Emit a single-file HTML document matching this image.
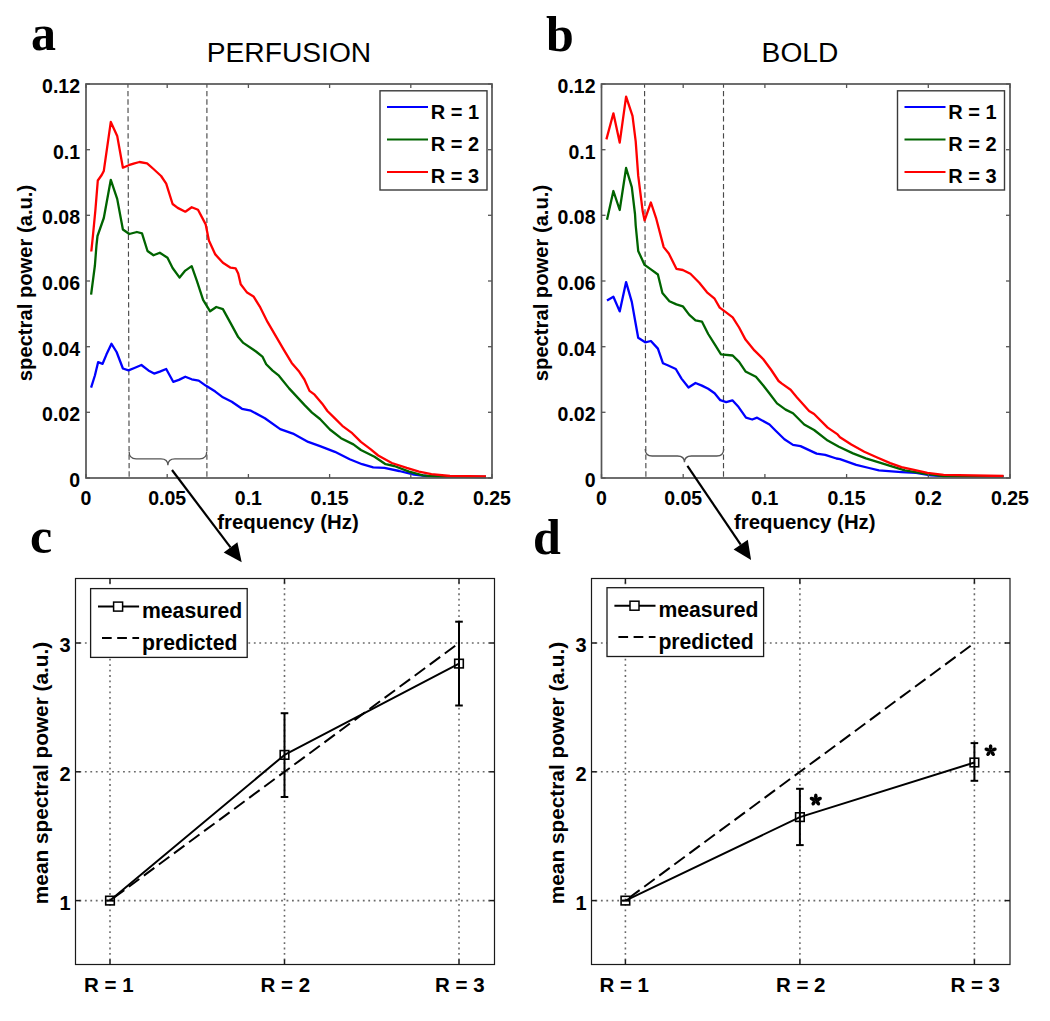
<!DOCTYPE html>
<html><head><meta charset="utf-8"><style>
html,body{margin:0;padding:0;background:#fff;}
body{width:1050px;height:1021px;overflow:hidden;font-family:"Liberation Sans",sans-serif;}
svg{display:block;}
</style></head><body>
<svg width="1050" height="1021" viewBox="0 0 1050 1021">
<rect width="1050" height="1021" fill="#fff"/>
<line x1="127.95" y1="84" x2="129.15" y2="478" stroke="#4a4a4a" stroke-width="1.15" stroke-dasharray="5.3,3.154" stroke-dashoffset="1.55"/>
<line x1="206.9" y1="84" x2="206.9" y2="478" stroke="#4a4a4a" stroke-width="1.15" stroke-dasharray="5.3,3.154" stroke-dashoffset="1.55"/>
<polyline points="91.1,387.6 94.9,375.5 98.1,362.2 102.6,363.8 106.4,354.6 111.5,343.8 116.6,352.0 122.9,368.5 128.5,370.4 134.4,368.0 141.4,365.0 148.4,370.4 154.1,373.6 159.8,371.6 166.2,369.0 173.2,381.8 178.9,379.9 185.3,376.7 191.7,379.3 198.7,380.6 205.7,385.6 215.3,391.6 222.9,397.3 231.8,401.8 242.0,408.8 250.9,410.7 264.9,418.3 280.2,429.1 292.9,433.6 308.2,441.9 320.0,446.2 334.9,451.8 349.7,459.2 362.1,464.2 373.2,467.3 384.4,467.9 399.2,471.0 414.1,474.7 426.5,476.0 450.0,476.6 486.0,477.0" fill="none" stroke="#0000ff" stroke-width="2.3" stroke-linejoin="round" stroke-linecap="butt" />
<polyline points="91.1,294.7 94.9,265.5 96.5,245.0 97.5,236.0 103.8,218.0 110.8,179.8 117.2,198.9 122.9,229.5 129.3,234.0 136.9,232.0 142.0,233.3 147.5,251.0 153.5,255.3 159.8,252.7 167.5,257.8 172.6,268.0 179.6,277.6 185.3,270.6 191.7,266.1 196.8,280.7 203.1,299.8 210.1,311.3 216.3,307.0 222.9,309.1 230.6,323.1 238.2,337.1 243.3,342.9 256.0,351.5 262.4,356.6 266.2,364.2 272.6,370.6 278.9,375.7 289.1,388.4 304.4,404.9 312.0,412.6 320.0,419.0 329.9,429.5 341.0,438.2 353.4,444.4 360.9,450.0 374.5,456.8 385.6,464.2 394.3,466.0 409.1,471.6 422.8,475.3 437.6,476.6 486.0,477.0" fill="none" stroke="#006400" stroke-width="2.3" stroke-linejoin="round" stroke-linecap="butt" />
<polyline points="91.3,251.5 93.0,235.0 95.4,210.0 97.8,180.5 101.7,175.0 103.8,170.9 110.8,121.9 117.2,135.9 122.9,167.7 128.7,165.2 134.4,163.3 139.5,162.0 147.1,163.3 153.5,169.0 161.1,176.0 166.2,183.7 172.6,204.0 177.7,207.9 185.3,211.7 191.7,207.2 198.0,209.8 205.7,224.4 208.9,240.4 215.3,254.4 222.9,262.7 230.6,267.7 235.7,268.4 238.2,273.5 240.7,284.3 247.1,292.6 253.5,296.4 259.8,306.6 267.5,321.9 276.4,337.1 284.0,350.2 291.7,362.9 299.3,371.8 304.4,379.5 309.5,390.9 314.6,394.7 322.2,403.7 327.4,411.0 334.9,418.4 342.3,425.8 352.2,433.2 360.9,441.9 370.8,449.3 378.2,455.5 391.8,463.0 406.7,467.9 419.0,471.6 431.4,474.1 450.0,476.0 486.0,476.5" fill="none" stroke="#ff0000" stroke-width="2.3" stroke-linejoin="round" stroke-linecap="butt" />
<rect x="86" y="84" width="406" height="394" fill="none" stroke="#555" stroke-width="1.7"/>
<line x1="86.0" y1="478" x2="86.0" y2="474" stroke="#555" stroke-width="1.3"/>
<line x1="86.0" y1="84" x2="86.0" y2="88" stroke="#555" stroke-width="1.3"/>
<text x="86.0" y="505.0" font-family="Liberation Sans" font-size="19.5" font-weight="bold" text-anchor="middle" fill="#000" >0</text>
<line x1="167.2" y1="478" x2="167.2" y2="474" stroke="#555" stroke-width="1.3"/>
<line x1="167.2" y1="84" x2="167.2" y2="88" stroke="#555" stroke-width="1.3"/>
<text x="167.2" y="505.0" font-family="Liberation Sans" font-size="19.5" font-weight="bold" text-anchor="middle" fill="#000" >0.05</text>
<line x1="248.4" y1="478" x2="248.4" y2="474" stroke="#555" stroke-width="1.3"/>
<line x1="248.4" y1="84" x2="248.4" y2="88" stroke="#555" stroke-width="1.3"/>
<text x="248.4" y="505.0" font-family="Liberation Sans" font-size="19.5" font-weight="bold" text-anchor="middle" fill="#000" >0.1</text>
<line x1="329.6" y1="478" x2="329.6" y2="474" stroke="#555" stroke-width="1.3"/>
<line x1="329.6" y1="84" x2="329.6" y2="88" stroke="#555" stroke-width="1.3"/>
<text x="329.6" y="505.0" font-family="Liberation Sans" font-size="19.5" font-weight="bold" text-anchor="middle" fill="#000" >0.15</text>
<line x1="410.8" y1="478" x2="410.8" y2="474" stroke="#555" stroke-width="1.3"/>
<line x1="410.8" y1="84" x2="410.8" y2="88" stroke="#555" stroke-width="1.3"/>
<text x="410.8" y="505.0" font-family="Liberation Sans" font-size="19.5" font-weight="bold" text-anchor="middle" fill="#000" >0.2</text>
<line x1="492.0" y1="478" x2="492.0" y2="474" stroke="#555" stroke-width="1.3"/>
<line x1="492.0" y1="84" x2="492.0" y2="88" stroke="#555" stroke-width="1.3"/>
<text x="492.0" y="505.0" font-family="Liberation Sans" font-size="19.5" font-weight="bold" text-anchor="middle" fill="#000" >0.25</text>
<line x1="86" y1="478.0" x2="90" y2="478.0" stroke="#555" stroke-width="1.3"/>
<line x1="492" y1="478.0" x2="488" y2="478.0" stroke="#555" stroke-width="1.3"/>
<text x="80.0" y="487.0" font-family="Liberation Sans" font-size="19.5" font-weight="bold" text-anchor="end" fill="#000" >0</text>
<line x1="86" y1="412.3" x2="90" y2="412.3" stroke="#555" stroke-width="1.3"/>
<line x1="492" y1="412.3" x2="488" y2="412.3" stroke="#555" stroke-width="1.3"/>
<text x="80.0" y="421.3" font-family="Liberation Sans" font-size="19.5" font-weight="bold" text-anchor="end" fill="#000" >0.02</text>
<line x1="86" y1="346.7" x2="90" y2="346.7" stroke="#555" stroke-width="1.3"/>
<line x1="492" y1="346.7" x2="488" y2="346.7" stroke="#555" stroke-width="1.3"/>
<text x="80.0" y="355.7" font-family="Liberation Sans" font-size="19.5" font-weight="bold" text-anchor="end" fill="#000" >0.04</text>
<line x1="86" y1="281.0" x2="90" y2="281.0" stroke="#555" stroke-width="1.3"/>
<line x1="492" y1="281.0" x2="488" y2="281.0" stroke="#555" stroke-width="1.3"/>
<text x="80.0" y="290.0" font-family="Liberation Sans" font-size="19.5" font-weight="bold" text-anchor="end" fill="#000" >0.06</text>
<line x1="86" y1="215.3" x2="90" y2="215.3" stroke="#555" stroke-width="1.3"/>
<line x1="492" y1="215.3" x2="488" y2="215.3" stroke="#555" stroke-width="1.3"/>
<text x="80.0" y="224.3" font-family="Liberation Sans" font-size="19.5" font-weight="bold" text-anchor="end" fill="#000" >0.08</text>
<line x1="86" y1="149.7" x2="90" y2="149.7" stroke="#555" stroke-width="1.3"/>
<line x1="492" y1="149.7" x2="488" y2="149.7" stroke="#555" stroke-width="1.3"/>
<text x="80.0" y="158.7" font-family="Liberation Sans" font-size="19.5" font-weight="bold" text-anchor="end" fill="#000" >0.1</text>
<line x1="86" y1="84.0" x2="90" y2="84.0" stroke="#555" stroke-width="1.3"/>
<line x1="492" y1="84.0" x2="488" y2="84.0" stroke="#555" stroke-width="1.3"/>
<text x="80.0" y="93.0" font-family="Liberation Sans" font-size="19.5" font-weight="bold" text-anchor="end" fill="#000" >0.12</text>
<text x="288.0" y="529.0" font-family="Liberation Sans" font-size="20.4" font-weight="bold" text-anchor="middle" fill="#000" >frequency (Hz)</text>
<text x="32.0" y="283.0" font-family="Liberation Sans" font-size="20.2" font-weight="bold" text-anchor="middle" fill="#000" transform="rotate(-90 32 283.0)">spectral power (a.u.)</text>
<text x="289.0" y="62.0" font-family="Liberation Sans" font-size="28.2" font-weight="normal" text-anchor="middle" fill="#000" >PERFUSION</text>
<text x="31.0" y="50.0" font-family="Liberation Serif" font-size="50" font-weight="bold" text-anchor="start" fill="#000" >a</text>
<rect x="380" y="90.8" width="107" height="99.2" fill="#fff" stroke="#3a3a3a" stroke-width="1.4"/>
<line x1="387" y1="107.0" x2="428" y2="107.0" stroke="#0000ff" stroke-width="2"/>
<text x="430.8" y="119.4" font-family="Liberation Sans" font-size="20" font-weight="bold" text-anchor="start" fill="#000" >R = 1</text>
<line x1="387" y1="139.5" x2="428" y2="139.5" stroke="#006400" stroke-width="2"/>
<text x="430.8" y="151.3" font-family="Liberation Sans" font-size="20" font-weight="bold" text-anchor="start" fill="#000" >R = 2</text>
<line x1="387" y1="172.0" x2="428" y2="172.0" stroke="#ff0000" stroke-width="2"/>
<text x="430.8" y="182.9" font-family="Liberation Sans" font-size="20" font-weight="bold" text-anchor="start" fill="#000" >R = 3</text>
<path d="M129.1,451.8 Q129.1,458.8 136.1,458.8 L160.89999999999998,458.8 Q167.89999999999998,458.8 167.89999999999998,465.2 Q167.89999999999998,458.8 174.89999999999998,458.8 L199.7,458.8 Q206.7,458.8 206.7,451.8" fill="none" stroke="#555" stroke-width="1.3"/>
<line x1="172" y1="470" x2="230.5" y2="547.4" stroke="#000" stroke-width="2.2"/><polygon points="241.7,562.2 223.7,552.6 237.4,542.3" fill="#000"/>
<line x1="644.55" y1="84" x2="645.9" y2="478" stroke="#4a4a4a" stroke-width="1.15" stroke-dasharray="5.3,3.154" stroke-dashoffset="1.55"/>
<line x1="723.5" y1="84" x2="723.5" y2="478" stroke="#4a4a4a" stroke-width="1.15" stroke-dasharray="5.3,3.154" stroke-dashoffset="1.55"/>
<polyline points="607.0,300.6 613.4,296.8 619.7,311.4 626.1,282.1 631.8,301.9 635.0,320.0 638.2,337.8 645.2,342.3 650.9,341.0 657.9,348.6 663.0,363.3 668.8,365.8 675.8,369.0 681.5,378.6 688.5,387.5 695.5,383.0 701.9,385.6 708.2,388.8 714.6,393.2 720.3,400.2 726.2,402.2 732.4,400.3 738.6,407.1 746.0,417.7 752.2,419.5 757.1,417.7 769.5,424.5 775.7,430.7 784.4,439.3 793.0,444.9 800.5,446.1 816.6,453.6 825.2,454.8 836.4,458.5 840.0,459.1 856.2,464.8 869.1,468.0 878.9,470.4 901.5,472.1 916.1,472.9 930.7,475.3 943.6,476.1 1003.5,476.5" fill="none" stroke="#0000ff" stroke-width="2.3" stroke-linejoin="round" stroke-linecap="butt" />
<polyline points="607.0,219.7 613.4,191.0 619.7,210.0 626.1,168.0 631.8,187.1 635.0,214.0 635.7,225.5 638.2,250.9 644.6,264.9 650.9,269.4 657.9,274.5 662.4,292.9 669.4,301.2 676.4,304.4 682.8,306.3 689.1,314.6 695.5,320.3 701.9,321.6 708.2,334.0 714.6,344.2 721.0,354.4 732.7,355.5 739.1,361.9 745.5,371.4 755.9,376.8 763.3,385.5 769.5,393.5 777.0,403.4 785.6,409.6 793.0,413.3 804.2,424.5 814.1,430.0 827.7,440.6 838.9,446.8 853.0,453.4 865.9,458.3 878.9,462.3 891.8,466.4 904.8,470.4 924.2,473.7 943.6,476.1 1003.5,476.5" fill="none" stroke="#006400" stroke-width="2.3" stroke-linejoin="round" stroke-linecap="butt" />
<polyline points="606.4,139.4 613.4,113.3 619.7,142.6 626.1,96.7 632.5,115.8 635.7,141.3 638.2,175.7 642.7,211.3 644.6,220.4 650.9,202.5 656.0,217.8 663.7,247.1 668.8,253.5 676.4,268.8 682.8,270.0 690.4,273.8 699.3,282.8 707.0,292.3 714.6,298.7 719.7,307.6 725.1,311.6 732.7,317.3 739.1,327.5 745.5,339.6 754.4,350.4 763.3,359.3 770.9,369.5 778.6,381.0 781.9,383.6 790.6,389.8 796.8,397.2 809.1,410.9 814.1,414.0 827.7,427.6 837.6,434.4 840.0,437.2 851.3,444.5 864.3,451.8 877.2,457.5 890.2,463.1 901.5,467.2 912.9,469.6 927.4,472.9 943.6,474.8 1003.5,476.0" fill="none" stroke="#ff0000" stroke-width="2.3" stroke-linejoin="round" stroke-linecap="butt" />
<rect x="601.5" y="84" width="408.5" height="394" fill="none" stroke="#555" stroke-width="1.7"/>
<line x1="601.5" y1="478" x2="601.5" y2="474" stroke="#555" stroke-width="1.3"/>
<line x1="601.5" y1="84" x2="601.5" y2="88" stroke="#555" stroke-width="1.3"/>
<text x="601.5" y="505.0" font-family="Liberation Sans" font-size="19.5" font-weight="bold" text-anchor="middle" fill="#000" >0</text>
<line x1="683.2" y1="478" x2="683.2" y2="474" stroke="#555" stroke-width="1.3"/>
<line x1="683.2" y1="84" x2="683.2" y2="88" stroke="#555" stroke-width="1.3"/>
<text x="683.2" y="505.0" font-family="Liberation Sans" font-size="19.5" font-weight="bold" text-anchor="middle" fill="#000" >0.05</text>
<line x1="764.9" y1="478" x2="764.9" y2="474" stroke="#555" stroke-width="1.3"/>
<line x1="764.9" y1="84" x2="764.9" y2="88" stroke="#555" stroke-width="1.3"/>
<text x="764.9" y="505.0" font-family="Liberation Sans" font-size="19.5" font-weight="bold" text-anchor="middle" fill="#000" >0.1</text>
<line x1="846.6" y1="478" x2="846.6" y2="474" stroke="#555" stroke-width="1.3"/>
<line x1="846.6" y1="84" x2="846.6" y2="88" stroke="#555" stroke-width="1.3"/>
<text x="846.6" y="505.0" font-family="Liberation Sans" font-size="19.5" font-weight="bold" text-anchor="middle" fill="#000" >0.15</text>
<line x1="928.3" y1="478" x2="928.3" y2="474" stroke="#555" stroke-width="1.3"/>
<line x1="928.3" y1="84" x2="928.3" y2="88" stroke="#555" stroke-width="1.3"/>
<text x="928.3" y="505.0" font-family="Liberation Sans" font-size="19.5" font-weight="bold" text-anchor="middle" fill="#000" >0.2</text>
<line x1="1010.0" y1="478" x2="1010.0" y2="474" stroke="#555" stroke-width="1.3"/>
<line x1="1010.0" y1="84" x2="1010.0" y2="88" stroke="#555" stroke-width="1.3"/>
<text x="1010.0" y="505.0" font-family="Liberation Sans" font-size="19.5" font-weight="bold" text-anchor="middle" fill="#000" >0.25</text>
<line x1="601.5" y1="478.0" x2="605.5" y2="478.0" stroke="#555" stroke-width="1.3"/>
<line x1="1010" y1="478.0" x2="1006" y2="478.0" stroke="#555" stroke-width="1.3"/>
<text x="595.5" y="487.0" font-family="Liberation Sans" font-size="19.5" font-weight="bold" text-anchor="end" fill="#000" >0</text>
<line x1="601.5" y1="412.3" x2="605.5" y2="412.3" stroke="#555" stroke-width="1.3"/>
<line x1="1010" y1="412.3" x2="1006" y2="412.3" stroke="#555" stroke-width="1.3"/>
<text x="595.5" y="421.3" font-family="Liberation Sans" font-size="19.5" font-weight="bold" text-anchor="end" fill="#000" >0.02</text>
<line x1="601.5" y1="346.7" x2="605.5" y2="346.7" stroke="#555" stroke-width="1.3"/>
<line x1="1010" y1="346.7" x2="1006" y2="346.7" stroke="#555" stroke-width="1.3"/>
<text x="595.5" y="355.7" font-family="Liberation Sans" font-size="19.5" font-weight="bold" text-anchor="end" fill="#000" >0.04</text>
<line x1="601.5" y1="281.0" x2="605.5" y2="281.0" stroke="#555" stroke-width="1.3"/>
<line x1="1010" y1="281.0" x2="1006" y2="281.0" stroke="#555" stroke-width="1.3"/>
<text x="595.5" y="290.0" font-family="Liberation Sans" font-size="19.5" font-weight="bold" text-anchor="end" fill="#000" >0.06</text>
<line x1="601.5" y1="215.3" x2="605.5" y2="215.3" stroke="#555" stroke-width="1.3"/>
<line x1="1010" y1="215.3" x2="1006" y2="215.3" stroke="#555" stroke-width="1.3"/>
<text x="595.5" y="224.3" font-family="Liberation Sans" font-size="19.5" font-weight="bold" text-anchor="end" fill="#000" >0.08</text>
<line x1="601.5" y1="149.7" x2="605.5" y2="149.7" stroke="#555" stroke-width="1.3"/>
<line x1="1010" y1="149.7" x2="1006" y2="149.7" stroke="#555" stroke-width="1.3"/>
<text x="595.5" y="158.7" font-family="Liberation Sans" font-size="19.5" font-weight="bold" text-anchor="end" fill="#000" >0.1</text>
<line x1="601.5" y1="84.0" x2="605.5" y2="84.0" stroke="#555" stroke-width="1.3"/>
<line x1="1010" y1="84.0" x2="1006" y2="84.0" stroke="#555" stroke-width="1.3"/>
<text x="595.5" y="93.0" font-family="Liberation Sans" font-size="19.5" font-weight="bold" text-anchor="end" fill="#000" >0.12</text>
<text x="804.8" y="529.0" font-family="Liberation Sans" font-size="20.4" font-weight="bold" text-anchor="middle" fill="#000" >frequency (Hz)</text>
<text x="547.5" y="283.0" font-family="Liberation Sans" font-size="20.2" font-weight="bold" text-anchor="middle" fill="#000" transform="rotate(-90 547.5 283.0)">spectral power (a.u.)</text>
<text x="800.0" y="62.0" font-family="Liberation Sans" font-size="28.2" font-weight="normal" text-anchor="middle" fill="#000" >BOLD</text>
<text x="546.0" y="51.0" font-family="Liberation Serif" font-size="50" font-weight="bold" text-anchor="start" fill="#000" >b</text>
<rect x="897.5" y="90.8" width="107.0" height="99.2" fill="#fff" stroke="#3a3a3a" stroke-width="1.4"/>
<line x1="904.5" y1="107.0" x2="945.5" y2="107.0" stroke="#0000ff" stroke-width="2"/>
<text x="948.3" y="119.4" font-family="Liberation Sans" font-size="20" font-weight="bold" text-anchor="start" fill="#000" >R = 1</text>
<line x1="904.5" y1="139.5" x2="945.5" y2="139.5" stroke="#006400" stroke-width="2"/>
<text x="948.3" y="151.3" font-family="Liberation Sans" font-size="20" font-weight="bold" text-anchor="start" fill="#000" >R = 2</text>
<line x1="904.5" y1="172.0" x2="945.5" y2="172.0" stroke="#ff0000" stroke-width="2"/>
<text x="948.3" y="182.9" font-family="Liberation Sans" font-size="20" font-weight="bold" text-anchor="start" fill="#000" >R = 3</text>
<path d="M645.2,449 Q645.2,456 652.2,456 L677.45,456 Q684.45,456 684.45,462.3 Q684.45,456 691.45,456 L716.7,456 Q723.7,456 723.7,449" fill="none" stroke="#555" stroke-width="1.3"/>
<line x1="687.4" y1="465.9" x2="740.7" y2="544.6" stroke="#000" stroke-width="2.2"/><polygon points="751.1,559.9 733.6,549.4 747.8,539.8" fill="#000"/>
<line x1="110.0" y1="578.5" x2="110.0" y2="964.5" stroke="#6a6a6a" stroke-width="1.6" stroke-dasharray="1.8,3.65" stroke-dashoffset="1.5"/>
<line x1="284.5" y1="578.5" x2="284.5" y2="964.5" stroke="#6a6a6a" stroke-width="1.6" stroke-dasharray="1.8,3.65" stroke-dashoffset="1.5"/>
<line x1="459.0" y1="578.5" x2="459.0" y2="964.5" stroke="#6a6a6a" stroke-width="1.6" stroke-dasharray="1.8,3.65" stroke-dashoffset="1.5"/>
<line x1="75.5" y1="900.6" x2="494.5" y2="900.6" stroke="#6a6a6a" stroke-width="1.6" stroke-dasharray="1.8,3.65" stroke-dashoffset="1.5"/>
<line x1="75.5" y1="771.8" x2="494.5" y2="771.8" stroke="#6a6a6a" stroke-width="1.6" stroke-dasharray="1.8,3.65" stroke-dashoffset="1.5"/>
<line x1="75.5" y1="643.0" x2="494.5" y2="643.0" stroke="#6a6a6a" stroke-width="1.6" stroke-dasharray="1.8,3.65" stroke-dashoffset="1.5"/>
<line x1="110.0" y1="900.6" x2="459.0" y2="643.0" stroke="#000" stroke-width="2" stroke-dasharray="13,5.7" stroke-dashoffset="14"/>
<polyline points="110.0,900.6 284.5,754.9 459.0,663.6" fill="none" stroke="#000" stroke-width="2" stroke-linejoin="round" stroke-linecap="butt" />
<line x1="106.2" y1="900.6" x2="113.8" y2="900.6" stroke="#000" stroke-width="2"/>
<line x1="284.5" y1="713.2" x2="284.5" y2="797.0" stroke="#000" stroke-width="2"/>
<line x1="280.7" y1="713.2" x2="288.3" y2="713.2" stroke="#000" stroke-width="2"/>
<line x1="280.7" y1="797.0" x2="288.3" y2="797.0" stroke="#000" stroke-width="2"/>
<line x1="459.0" y1="621.7" x2="459.0" y2="705.5" stroke="#000" stroke-width="2"/>
<line x1="455.2" y1="621.7" x2="462.8" y2="621.7" stroke="#000" stroke-width="2"/>
<line x1="455.2" y1="705.5" x2="462.8" y2="705.5" stroke="#000" stroke-width="2"/>
<rect x="105.7" y="896.3" width="8.6" height="8.6" fill="none" stroke="#000" stroke-width="1.6"/>
<rect x="280.2" y="750.6" width="8.6" height="8.6" fill="none" stroke="#000" stroke-width="1.6"/>
<rect x="454.7" y="659.3" width="8.6" height="8.6" fill="none" stroke="#000" stroke-width="1.6"/>
<rect x="75.5" y="578.5" width="419.0" height="386.0" fill="none" stroke="#1a1a1a" stroke-width="1.2"/>
<line x1="110.0" y1="964.5" x2="110.0" y2="959.5" stroke="#1a1a1a" stroke-width="1.5"/>
<line x1="110.0" y1="578.5" x2="110.0" y2="583.5" stroke="#1a1a1a" stroke-width="1.5"/>
<text x="108.8" y="992.0" font-family="Liberation Sans" font-size="20.5" font-weight="bold" text-anchor="middle" fill="#000" >R = 1</text>
<line x1="284.5" y1="964.5" x2="284.5" y2="959.5" stroke="#1a1a1a" stroke-width="1.5"/>
<line x1="284.5" y1="578.5" x2="284.5" y2="583.5" stroke="#1a1a1a" stroke-width="1.5"/>
<text x="285.3" y="992.0" font-family="Liberation Sans" font-size="20.5" font-weight="bold" text-anchor="middle" fill="#000" >R = 2</text>
<line x1="459.0" y1="964.5" x2="459.0" y2="959.5" stroke="#1a1a1a" stroke-width="1.5"/>
<line x1="459.0" y1="578.5" x2="459.0" y2="583.5" stroke="#1a1a1a" stroke-width="1.5"/>
<text x="459.8" y="992.0" font-family="Liberation Sans" font-size="20.5" font-weight="bold" text-anchor="middle" fill="#000" >R = 3</text>
<line x1="75.5" y1="900.6" x2="80.5" y2="900.6" stroke="#1a1a1a" stroke-width="1.5"/>
<line x1="494.5" y1="900.6" x2="489.5" y2="900.6" stroke="#1a1a1a" stroke-width="1.5"/>
<text x="70.5" y="909.6" font-family="Liberation Sans" font-size="20" font-weight="bold" text-anchor="end" fill="#000" >1</text>
<line x1="75.5" y1="771.8" x2="80.5" y2="771.8" stroke="#1a1a1a" stroke-width="1.5"/>
<line x1="494.5" y1="771.8" x2="489.5" y2="771.8" stroke="#1a1a1a" stroke-width="1.5"/>
<text x="70.5" y="780.8" font-family="Liberation Sans" font-size="20" font-weight="bold" text-anchor="end" fill="#000" >2</text>
<line x1="75.5" y1="643.0" x2="80.5" y2="643.0" stroke="#1a1a1a" stroke-width="1.5"/>
<line x1="494.5" y1="643.0" x2="489.5" y2="643.0" stroke="#1a1a1a" stroke-width="1.5"/>
<text x="70.5" y="652.0" font-family="Liberation Sans" font-size="20" font-weight="bold" text-anchor="end" fill="#000" >3</text>
<text x="47.5" y="773.0" font-family="Liberation Sans" font-size="20.8" font-weight="bold" text-anchor="middle" fill="#000" transform="rotate(-90 47.5 773.0)">mean spectral power (a.u.)</text>
<rect x="90.6" y="588.6" width="156.6" height="68.8" fill="#fff" stroke="#1a1a1a" stroke-width="1.3"/>
<line x1="98.0" y1="606.6" x2="139.1" y2="606.6" stroke="#000" stroke-width="2"/>
<rect x="113.6" y="602.1" width="9" height="9" fill="#fff" stroke="#000" stroke-width="1.5"/>
<line x1="102.0" y1="638.0" x2="139.1" y2="638.0" stroke="#000" stroke-width="2" stroke-dasharray="9.7,5.5"/>
<text x="142.0" y="617.5" font-family="Liberation Sans" font-size="21.2" font-weight="bold" text-anchor="start" fill="#000" >measured</text>
<text x="142.0" y="650.3" font-family="Liberation Sans" font-size="21.2" font-weight="bold" text-anchor="start" fill="#000" >predicted</text>
<text x="30.0" y="553.0" font-family="Liberation Serif" font-size="50" font-weight="bold" text-anchor="start" fill="#000" >c</text>
<line x1="625.4" y1="578.5" x2="625.4" y2="964.5" stroke="#6a6a6a" stroke-width="1.6" stroke-dasharray="1.8,3.65" stroke-dashoffset="1.5"/>
<line x1="799.9" y1="578.5" x2="799.9" y2="964.5" stroke="#6a6a6a" stroke-width="1.6" stroke-dasharray="1.8,3.65" stroke-dashoffset="1.5"/>
<line x1="974.4" y1="578.5" x2="974.4" y2="964.5" stroke="#6a6a6a" stroke-width="1.6" stroke-dasharray="1.8,3.65" stroke-dashoffset="1.5"/>
<line x1="591.5" y1="900.6" x2="1010" y2="900.6" stroke="#6a6a6a" stroke-width="1.6" stroke-dasharray="1.8,3.65" stroke-dashoffset="1.5"/>
<line x1="591.5" y1="771.8" x2="1010" y2="771.8" stroke="#6a6a6a" stroke-width="1.6" stroke-dasharray="1.8,3.65" stroke-dashoffset="1.5"/>
<line x1="591.5" y1="643.0" x2="1010" y2="643.0" stroke="#6a6a6a" stroke-width="1.6" stroke-dasharray="1.8,3.65" stroke-dashoffset="1.5"/>
<line x1="625.4" y1="900.6" x2="974.4" y2="643.0" stroke="#000" stroke-width="2" stroke-dasharray="13,5.7" stroke-dashoffset="14"/>
<polyline points="625.4,900.6 799.9,817.1 974.4,762.5" fill="none" stroke="#000" stroke-width="2" stroke-linejoin="round" stroke-linecap="butt" />
<line x1="621.6" y1="900.6" x2="629.2" y2="900.6" stroke="#000" stroke-width="2"/>
<line x1="799.9" y1="788.8" x2="799.9" y2="845.1" stroke="#000" stroke-width="2"/>
<line x1="796.1" y1="788.8" x2="803.7" y2="788.8" stroke="#000" stroke-width="2"/>
<line x1="796.1" y1="845.1" x2="803.7" y2="845.1" stroke="#000" stroke-width="2"/>
<line x1="974.4" y1="743.1" x2="974.4" y2="780.8" stroke="#000" stroke-width="2"/>
<line x1="970.6" y1="743.1" x2="978.2" y2="743.1" stroke="#000" stroke-width="2"/>
<line x1="970.6" y1="780.8" x2="978.2" y2="780.8" stroke="#000" stroke-width="2"/>
<rect x="621.1" y="896.3" width="8.6" height="8.6" fill="none" stroke="#000" stroke-width="1.6"/>
<rect x="795.6" y="812.8" width="8.6" height="8.6" fill="none" stroke="#000" stroke-width="1.6"/>
<rect x="970.1" y="758.2" width="8.6" height="8.6" fill="none" stroke="#000" stroke-width="1.6"/>
<rect x="591.5" y="578.5" width="418.5" height="386.0" fill="none" stroke="#1a1a1a" stroke-width="1.2"/>
<line x1="625.4" y1="964.5" x2="625.4" y2="959.5" stroke="#1a1a1a" stroke-width="1.5"/>
<line x1="625.4" y1="578.5" x2="625.4" y2="583.5" stroke="#1a1a1a" stroke-width="1.5"/>
<text x="624.2" y="992.0" font-family="Liberation Sans" font-size="20.5" font-weight="bold" text-anchor="middle" fill="#000" >R = 1</text>
<line x1="799.9" y1="964.5" x2="799.9" y2="959.5" stroke="#1a1a1a" stroke-width="1.5"/>
<line x1="799.9" y1="578.5" x2="799.9" y2="583.5" stroke="#1a1a1a" stroke-width="1.5"/>
<text x="800.7" y="992.0" font-family="Liberation Sans" font-size="20.5" font-weight="bold" text-anchor="middle" fill="#000" >R = 2</text>
<line x1="974.4" y1="964.5" x2="974.4" y2="959.5" stroke="#1a1a1a" stroke-width="1.5"/>
<line x1="974.4" y1="578.5" x2="974.4" y2="583.5" stroke="#1a1a1a" stroke-width="1.5"/>
<text x="975.2" y="992.0" font-family="Liberation Sans" font-size="20.5" font-weight="bold" text-anchor="middle" fill="#000" >R = 3</text>
<line x1="591.5" y1="900.6" x2="596.5" y2="900.6" stroke="#1a1a1a" stroke-width="1.5"/>
<line x1="1010" y1="900.6" x2="1005" y2="900.6" stroke="#1a1a1a" stroke-width="1.5"/>
<text x="586.5" y="909.6" font-family="Liberation Sans" font-size="20" font-weight="bold" text-anchor="end" fill="#000" >1</text>
<line x1="591.5" y1="771.8" x2="596.5" y2="771.8" stroke="#1a1a1a" stroke-width="1.5"/>
<line x1="1010" y1="771.8" x2="1005" y2="771.8" stroke="#1a1a1a" stroke-width="1.5"/>
<text x="586.5" y="780.8" font-family="Liberation Sans" font-size="20" font-weight="bold" text-anchor="end" fill="#000" >2</text>
<line x1="591.5" y1="643.0" x2="596.5" y2="643.0" stroke="#1a1a1a" stroke-width="1.5"/>
<line x1="1010" y1="643.0" x2="1005" y2="643.0" stroke="#1a1a1a" stroke-width="1.5"/>
<text x="586.5" y="652.0" font-family="Liberation Sans" font-size="20" font-weight="bold" text-anchor="end" fill="#000" >3</text>
<text x="563.5" y="773.0" font-family="Liberation Sans" font-size="20.8" font-weight="bold" text-anchor="middle" fill="#000" transform="rotate(-90 563.5 773.0)">mean spectral power (a.u.)</text>
<rect x="607" y="587.7" width="156.6" height="68.8" fill="#fff" stroke="#1a1a1a" stroke-width="1.3"/>
<line x1="614.4" y1="605.7" x2="655.5" y2="605.7" stroke="#000" stroke-width="2"/>
<rect x="630" y="601.2" width="9" height="9" fill="#fff" stroke="#000" stroke-width="1.5"/>
<line x1="618.4" y1="637.1" x2="655.5" y2="637.1" stroke="#000" stroke-width="2" stroke-dasharray="9.7,5.5"/>
<text x="658.4" y="616.6" font-family="Liberation Sans" font-size="21.2" font-weight="bold" text-anchor="start" fill="#000" >measured</text>
<text x="658.4" y="649.4" font-family="Liberation Sans" font-size="21.2" font-weight="bold" text-anchor="start" fill="#000" >predicted</text>
<text x="533.0" y="553.5" font-family="Liberation Serif" font-size="50" font-weight="bold" text-anchor="start" fill="#000" >d</text>
<ellipse cx="815.80" cy="796.40" rx="2.79" ry="1.86" transform="rotate(-90 815.80 796.40)" fill="#000"/>
<ellipse cx="819.22" cy="798.89" rx="2.79" ry="1.86" transform="rotate(-18 819.22 798.89)" fill="#000"/>
<ellipse cx="817.91" cy="802.91" rx="2.79" ry="1.86" transform="rotate(54 817.91 802.91)" fill="#000"/>
<ellipse cx="813.69" cy="802.91" rx="2.79" ry="1.86" transform="rotate(126 813.69 802.91)" fill="#000"/>
<ellipse cx="812.38" cy="798.89" rx="2.79" ry="1.86" transform="rotate(198 812.38 798.89)" fill="#000"/>
<circle cx="815.8" cy="800" r="1.55" fill="#000"/>
<ellipse cx="990.60" cy="747.00" rx="2.79" ry="1.86" transform="rotate(-90 990.60 747.00)" fill="#000"/>
<ellipse cx="994.02" cy="749.49" rx="2.79" ry="1.86" transform="rotate(-18 994.02 749.49)" fill="#000"/>
<ellipse cx="992.71" cy="753.51" rx="2.79" ry="1.86" transform="rotate(54 992.71 753.51)" fill="#000"/>
<ellipse cx="988.49" cy="753.51" rx="2.79" ry="1.86" transform="rotate(126 988.49 753.51)" fill="#000"/>
<ellipse cx="987.18" cy="749.49" rx="2.79" ry="1.86" transform="rotate(198 987.18 749.49)" fill="#000"/>
<circle cx="990.6" cy="750.6" r="1.55" fill="#000"/>
</svg>
</body></html>
